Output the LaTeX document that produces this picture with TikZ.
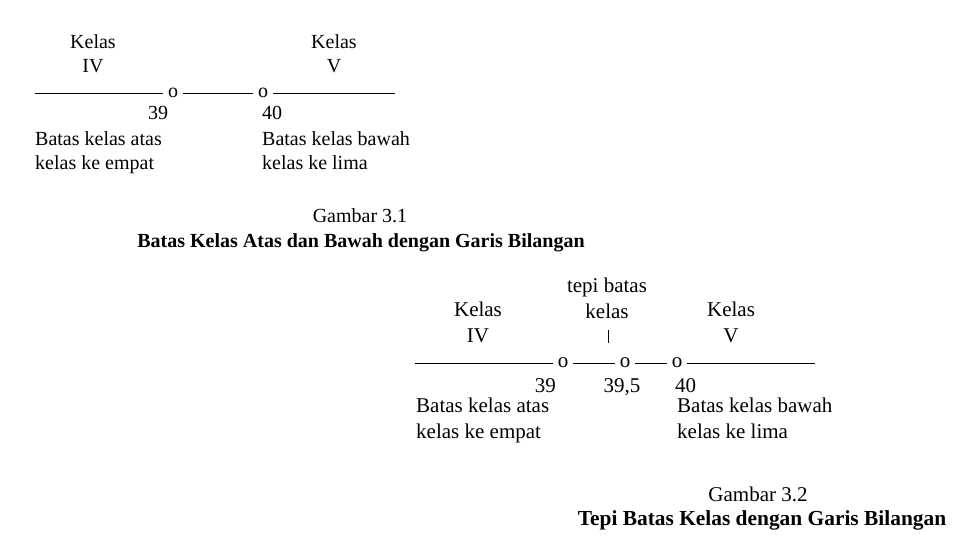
\documentclass[tikz,border=0pt]{standalone}
\usepackage{fontspec}
\setmainfont{Liberation Serif}
\usetikzlibrary{positioning}

\begin{document}
\begin{tikzpicture}[
    x=1pt, y=-1pt,
    every node/.style={font=\fontsize{20}{24}\selectfont, inner sep=0pt},
    besar/.style={font=\fontsize{21}{25.5}\selectfont},
    lbl/.style={anchor=base, align=center},
    txt/.style={anchor=base west, align=left},
    bulat/.style={inner xsep=5pt},
    judul/.style={anchor=base, font=\fontsize{20}{24}\selectfont\bfseries},
    garis/.style={line width=0.9pt}
]
    \useasboundingbox (0,0) rectangle (960,540);

    % Gambar 3.1
    \node[lbl] (k4a) at (93,73)  {Kelas\\IV};
    \node[lbl] (k5a) at (334,73) {Kelas\\V};

    \coordinate (kiri1)  at (35,93);
    \coordinate (kanan1) at (395,93);
    \node[bulat] (o39a) at (173,93) {o};
    \node[bulat] (o40a) at (263,93) {o};
    \draw[garis] (kiri1) -- (o39a);
    \draw[garis] (o39a) -- (o40a);
    \draw[garis] (o40a) -- (kanan1);

    \node[anchor=base] (n39a) at (158,120) {39};
    \node[anchor=base west] (n40a) at (262,120) {40};
    \node[txt] (atas1)  at (35,170)  {Batas kelas atas\\kelas ke empat};
    \node[txt] (bawah1) at (262,170) {Batas kelas bawah\\kelas ke lima};

    \node[anchor=base] (gbr1) at (360,222) {Gambar 3.1};
    \node[judul] (jdl1) at (361,247) {Batas Kelas Atas dan Bawah dengan Garis Bilangan};

    % Gambar 3.2
    \begin{scope}[every node/.append style={besar}]
    \node[lbl] (tepi) at (607,318) {tepi batas\\kelas};
    \draw (608,330) -- (608,343);
    \node[lbl] (k4b) at (478,342) {Kelas\\IV};
    \node[lbl] (k5b) at (731,342) {Kelas\\V};

    \coordinate (kiri2)  at (415,363);
    \coordinate (kanan2) at (815,363);
    \node[bulat] (o39b) at (563,363) {o};
    \node[bulat] (o395) at (625,363) {o};
    \node[bulat] (o40b) at (677,363) {o};
    \draw[garis] (kiri2) -- (o39b);
    \draw[garis] (o39b) -- (o395);
    \draw[garis] (o395) -- (o40b);
    \draw[garis] (o40b) -- (kanan2);

    \node[anchor=base east] (n39b) at (556,392) {39};
    \node[anchor=base] (n395) at (622,392) {39,5};
    \node[anchor=base west] (n40b) at (675,392) {40};
    \node[txt] (atas2)  at (416,438) {Batas kelas atas\\kelas ke empat};
    \node[txt] (bawah2) at (677,438) {Batas kelas bawah\\kelas ke lima};

    \node[anchor=base] (gbr2) at (758,501) {Gambar 3.2};
    \node[judul, font=\fontsize{21.4}{25}\selectfont\bfseries] (jdl2) at (762,525) {Tepi Batas Kelas dengan Garis Bilangan};
    \end{scope}
\end{tikzpicture}
\end{document}
